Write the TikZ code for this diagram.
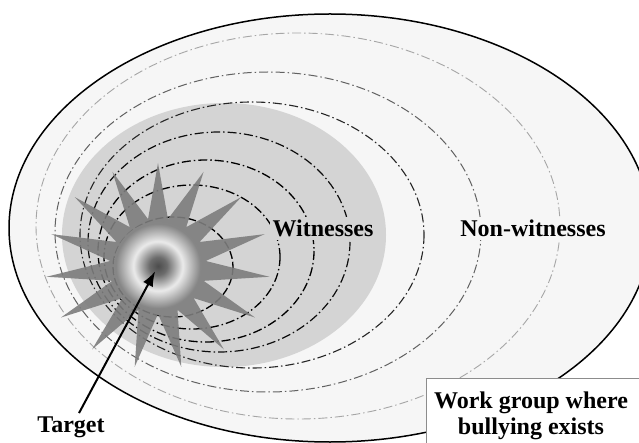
\documentclass[tikz,border=0pt]{standalone}
\usepackage{fontspec}
\setmainfont{Liberation Serif}
\usetikzlibrary{arrows.meta}
\definecolor{groupfill}{HTML}{F6F6F6}
\definecolor{witfill}{HTML}{D4D4D4}
\definecolor{stargray}{HTML}{7D7D7D}
\definecolor{glowedge}{HTML}{868686}
\pgfdeclareradialshading{targetglow}{\pgfpoint{0bp}{0bp}}{color(0bp)=(black!70); color(5bp)=(black!58); color(14bp)=(black!8); color(24bp)=(glowedge); color(50bp)=(glowedge)}

\begin{document}
\begin{tikzpicture}[x=1pt,y=-1pt,
  lbl/.style={font=\fontsize{24}{26}\selectfont\bfseries, inner sep=3pt},
  ring/.style={dash pattern=on 9pt off 3pt on 1.5pt off 3pt}]
  \useasboundingbox (0,0) rectangle (639,443);
  \clip (0,0) rectangle (639,443);
  \fill[white] (0,0) rectangle (639,443);
  \draw[line width=1.5pt, fill=groupfill] (330,228) ellipse [x radius=321, y radius=214];
  \fill[witfill] (224,235) ellipse [x radius=162, y radius=132];
  \draw[line width=1.3pt, dash pattern=on 8pt off 3pt] (173,267) ellipse [x radius=60, y radius=50];
  \foreach \cx/\cy/\rx/\ry/\tone/\lw in {192/257/88/72/100/1.3, 206/251/108/91/100/1.3,
      219/242/131/110/95/1.2, 252/235/172/133/85/1.1, 268/232/213/160/62/1,
      298/226/262/193/35/.9}
    \draw[ring, draw=black!\tone, line width=\lw pt] (\cx,\cy) ellipse [x radius=\rx, y radius=\ry];
  \coordinate (tgt) at (158,266);
  \begin{scope}[shift={(tgt)}]
    \fill[stargray, fill opacity=.9] (270:112 and 103)
      \foreach \k in {0,...,14}{ -- ({282+24*\k}:48) -- ({294+24*\k}:112 and 103)} -- cycle;
  \end{scope}
  \shade[shading=targetglow] (tgt) circle [radius=44];
  \node[lbl, fill=witfill, anchor=base] (wit) at (323,237) {Witnesses};
  \node[lbl, fill=groupfill, anchor=base] (nonwit) at (533,237) {Non-witnesses};
  \draw[draw=black!45, fill=white, line width=.8pt] (426,378) rectangle (660,460);
  \node[lbl, align=center] (group) at (531,416) {Work group where\\bullying exists};
  \node[lbl, anchor=base] (target) at (71,432) {Target};
  \draw[line width=2pt, -{Latex[length=15pt,width=11pt]}, shorten >=6pt] ([xshift=8pt]target.north) -- (tgt);
\end{tikzpicture}
\end{document}
